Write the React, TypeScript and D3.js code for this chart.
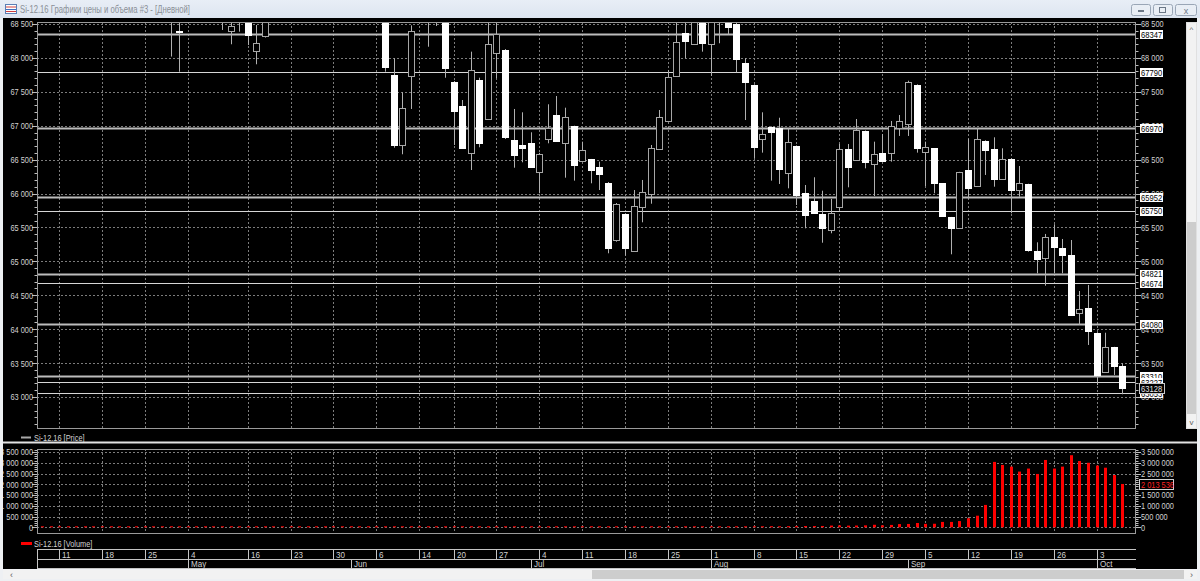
import React from "react";
import * as d3 from "d3";

// ---------- DATA ----------
const days = [
  "04-07","04-08","04-11","04-12","04-13","04-14","04-15","04-18","04-19","04-20","04-21","04-22","04-25","04-26","04-27","04-28","04-29",
  "05-04","05-05","05-06","05-10","05-11","05-12","05-13","05-16","05-17","05-18","05-19","05-20","05-23","05-24","05-25","05-26","05-27","05-30","05-31",
  "06-01","06-02","06-03","06-06","06-07","06-08","06-09","06-10","06-14","06-15","06-16","06-17","06-20","06-21","06-22","06-23","06-24","06-27","06-28","06-29","06-30",
  "07-01","07-04","07-05","07-06","07-07","07-08","07-11","07-12","07-13","07-14","07-15","07-18","07-19","07-20","07-21","07-22","07-25","07-26","07-27","07-28","07-29",
  "08-01","08-02","08-03","08-04","08-05","08-08","08-09","08-10","08-11","08-12","08-15","08-16","08-17","08-18","08-19","08-22","08-23","08-24","08-25","08-26","08-29","08-30","08-31",
  "09-01","09-02","09-05","09-06","09-07","09-08","09-09","09-12","09-13","09-14","09-15","09-16","09-19","09-20","09-21","09-22","09-23","09-26","09-27","09-28","09-29","09-30",
  "10-03","10-04","10-05","10-06"
];

// [date, open, high, low, close]
const candles: [string, number, number, number, number][] = [
  ["04-28", 68700, 68850, 68020, 68600],
  ["04-29", 68400, 68650, 67797, 68395],
  ["05-11", 68600, 68700, 68412, 68550],
  ["05-12", 68401, 68600, 68201, 68475],
  ["05-13", 68650, 68750, 68387, 68560],
  ["05-16", 68530, 68600, 68190, 68338],
  ["05-17", 68102, 68485, 67906, 68215],
  ["05-18", 68327, 68750, 68300, 68650],
  ["06-07", 68700, 68800, 67797, 67870],
  ["06-08", 67748, 67994, 66676, 66716],
  ["06-09", 66716, 67493, 66579, 67266],
  ["06-10", 67733, 68480, 67247, 68397],
  ["06-15", 68700, 68850, 68165, 68600],
  ["06-16", 68650, 68800, 68470, 68700],
  ["06-17", 68650, 68750, 67708, 67847],
  ["06-20", 67649, 67660, 66716, 67222],
  ["06-21", 67287, 67379, 66660, 66667],
  ["06-22", 66594, 68092, 66347, 67822],
  ["06-23", 67674, 67708, 66682, 66741],
  ["06-24", 67095, 68600, 67095, 68201],
  ["06-27", 68068, 68600, 67699, 68348],
  ["06-28", 68117, 68130, 66804, 66838],
  ["06-29", 66790, 67247, 66381, 66568],
  ["06-30", 66716, 67198, 66461, 66667],
  ["07-01", 66741, 66903, 66380, 66387],
  ["07-04", 66322, 66600, 66004, 66579],
  ["07-05", 66800, 67316, 66741, 66962],
  ["07-06", 67158, 67438, 66770, 66779],
  ["07-07", 66741, 67266, 66234, 67124],
  ["07-08", 66996, 67000, 66190, 66421],
  ["07-11", 66485, 66765, 66480, 66638],
  ["07-12", 66505, 66510, 66151, 66347],
  ["07-13", 66387, 66470, 66052, 66284],
  ["07-14", 66160, 66170, 65119, 65193],
  ["07-15", 65311, 65860, 65290, 65842],
  ["07-18", 65699, 65710, 65084, 65193],
  ["07-19", 65157, 66052, 65150, 65812],
  ["07-20", 65797, 66200, 65576, 66027],
  ["07-21", 66000, 66716, 65850, 66667],
  ["07-22", 66657, 67232, 66650, 67133],
  ["07-25", 67070, 67822, 67060, 67714],
  ["07-26", 67733, 68600, 67720, 68239],
  ["07-27", 68363, 68600, 67994, 68249],
  ["07-28", 68201, 68700, 68190, 68600],
  ["07-29", 68600, 68700, 68092, 68216],
  ["08-01", 68201, 68700, 67733, 68600],
  ["08-02", 68650, 68750, 68216, 68600],
  ["08-03", 68560, 68650, 68348, 68461],
  ["08-04", 68496, 68550, 67788, 67984],
  ["08-05", 67929, 67994, 67084, 67649],
  ["08-08", 67601, 67610, 66520, 66691],
  ["08-09", 66800, 67198, 66603, 66874],
  ["08-10", 66986, 66990, 66190, 66912],
  ["08-11", 66962, 67118, 66141, 66362],
  ["08-12", 66298, 66962, 66077, 66765],
  ["08-15", 66701, 66710, 65831, 65979],
  ["08-16", 66004, 66126, 65487, 65684],
  ["08-17", 65890, 66240, 65710, 65718],
  ["08-18", 65694, 66042, 65275, 65488],
  ["08-19", 65463, 65920, 65414, 65718],
  ["08-22", 65806, 66731, 65750, 66657],
  ["08-23", 66657, 66731, 66092, 66387],
  ["08-24", 66495, 67099, 66490, 66937],
  ["08-25", 66922, 66930, 66372, 66470],
  ["08-26", 66436, 66765, 65964, 66579],
  ["08-29", 66603, 66878, 66480, 66485],
  ["08-30", 66593, 67070, 66470, 66996],
  ["08-31", 66962, 67158, 66849, 67074],
  ["09-01", 67026, 67664, 66849, 67649],
  ["09-02", 67601, 67610, 66603, 66676],
  ["09-05", 66608, 66765, 66111, 66691],
  ["09-06", 66667, 66670, 66004, 66151],
  ["09-07", 66151, 66155, 65670, 65674],
  ["09-08", 65650, 65655, 65104, 65497],
  ["09-09", 65497, 66320, 65490, 66313],
  ["09-12", 66347, 66809, 65930, 66077],
  ["09-13", 66111, 66962, 66100, 66800],
  ["09-14", 66780, 66785, 66274, 66642],
  ["09-15", 66652, 66829, 66101, 66210],
  ["09-16", 66210, 66667, 66200, 66514],
  ["09-19", 66514, 66520, 65709, 66052],
  ["09-20", 66052, 66406, 65953, 66151],
  ["09-21", 66141, 66145, 65143, 65168],
  ["09-22", 65149, 65281, 64824, 65031],
  ["09-23", 65045, 65404, 64641, 65355],
  ["09-26", 65355, 65547, 64824, 65216],
  ["09-27", 65193, 65330, 64824, 65094],
  ["09-28", 65094, 65315, 64200, 64209],
  ["09-29", 64234, 64563, 64062, 64297],
  ["09-30", 64308, 64652, 63767, 63978],
  ["10-03", 63948, 63955, 63177, 63325],
  ["10-04", 63364, 63948, 63360, 63733],
  ["10-05", 63733, 63740, 63325, 63457],
  ["10-06", 63457, 63497, 63040, 63128]
];

// daily volume, one value per day in `days`
const volumes = [
  12000,14000,15000,13000,16000,15000,14000,18000,16000,17000,15000,19000,18000,20000,17000,19000,21000,
  16000,18000,20000,17000,19000,22000,21000,20000,23000,19000,22000,24000,21000,23000,25000,22000,24000,26000,25000,
  24000,27000,25000,28000,30000,33000,29000,31000,27000,26000,30000,29000,32000,35000,34000,31000,42000,38000,36000,33000,30000,
  29000,31000,32000,34000,30000,33000,35000,32000,36000,34000,37000,33000,38000,36000,35000,40000,42000,39000,41000,37000,40000,
  40000,42000,44000,41000,46000,45000,48000,50000,47000,52000,55000,60000,58000,62000,80000,85000,78000,82000,90000,118000,92000,110000,150000,
  155000,200000,160000,165000,250000,250000,290000,420000,540000,1040000,3040000,2900000,2820000,2590000,2730000,2480000,3130000,2730000,2820000,3350000,3080000,3000000,
  2870000,2770000,2430000,2013536
];

const levels = [68347, 67790, 66970, 65952, 65750, 64821, 64674, 64080, 63310, 63227, 63053];
const strongLevels = [68347, 66970, 65952, 64821, 64080, 63310];

const weekTickDates = ["04-11","04-18","04-25","05-04","05-16","05-23","05-30","06-06","06-14","06-20","06-27","07-04","07-11","07-18","07-25","08-01","08-08","08-15","08-22","08-29","09-05","09-12","09-19","09-26","10-03"];
const weekTickLabels = ["11","18","25","4","16","23","30","6","14","20","27","4","11","18","25","1","8","15","22","29","5","12","19","26","3"];
const monthTickDates = ["05-04","06-01","07-01","08-01","09-01","10-03"];
const monthTickLabels = ["May","Jun","Jul","Aug","Sep","Oct"];

const priceMajor = [63000, 63500, 64000, 64500, 65000, 65500, 66000, 66500, 67000, 67500, 68000, 68500];
const volumeMajor = [0, 500000, 1000000, 1500000, 2000000, 2500000, 3000000, 3500000];

const titleText = "Si-12.16 Графики цены и объема #3 - [Дневной]";
const priceLegend = "Si-12.16 [Price]";
const volumeLegend = "Si-12.16 [Volume]";

// ---------- CHART ----------
const FONT = "'Liberation Sans',Arial,sans-serif";
const fmt = (v: number) => d3.format(",")(v).replace(/,/g, " ");

// condensed bitmap-like label
function T(props: { x: number; y: number; children: any; anchor?: string; fill?: string; size?: number; sx?: number }) {
  const { x, y, children, anchor = "start", fill = "#d2d2d2", size = 9.5, sx = 0.78 } = props;
  return (
    <text transform={`translate(${x},${y}) scale(${sx},1)`} dy="0.36em" textAnchor={anchor} fontSize={size} fill={fill}>
      {children}
    </text>
  );
}

export default function App() {
  const PL = 37, PR = 1136;
  const pTop = 22, pBot = 429;
  const vTop = 449, vBot = 534;

  const x = d3.scaleLinear().domain([-0.58, 127.6]).range([PL, PR]);
  const yP = d3.scaleLinear().domain([63000, 68500]).range([397, 24]);
  const yV = d3.scaleLinear().domain([0, 3500000]).range([527.3, 452]);
  const di = (d: string) => days.indexOf(d);
  const cx = (d: string) => Math.round(x(di(d)));

  const priceMinor = d3.range(62600, 68600, 100);
  const volMinor = d3.range(0, 3700000, 100000);
  const last = candles[candles.length - 1];
  const lastVol = volumes[volumes.length - 1];

  const gridC = "#7c7c7c";
  const axC = "#bdbdbd";

  return (
    <svg width={1200} height={581} style={{ position: "absolute", left: 0, top: 0, display: "block" }} fontFamily={FONT}>
      <defs>
        <clipPath id="pclip"><rect x={PL} y={pTop} width={PR - PL} height={pBot - pTop} /></clipPath>
        <clipPath id="vclip"><rect x={PL} y={vTop} width={PR - PL} height={vBot - vTop} /></clipPath>
        <clipPath id="wclip"><rect x={3} y={18} width={1194} height={551} /></clipPath>
        <linearGradient id="tg" x1="0" y1="0" x2="0" y2="1">
          <stop offset="0" stopColor="#e8eef6" />
          <stop offset="1" stopColor="#dde5f0" />
        </linearGradient>
      </defs>
      {/* window frame */}
      <rect x={0} y={0} width={1200} height={581} fill="#eef0f3" />
      <rect x={0} y={0} width={1200} height={18} fill="url(#tg)" />
      <g>
        <rect x={5.5} y={4.5} width={11} height={9} fill="#fff" stroke="#5b7fb5" />
        <line x1={6} x2={16} y1={7} y2={7} stroke="#d04040" />
        <line x1={6} x2={16} y1={9.5} y2={9.5} stroke="#4070c0" />
        <line x1={6} x2={16} y1={11.5} y2={11.5} stroke="#d04040" />
      </g>
      <text x={20} y={12.5} fontSize={10.5} fill="#8a8f96" textLength={170} lengthAdjust="spacingAndGlyphs">{titleText}</text>
      {[1131, 1153, 1175].map((bx, i) => (
        <g key={bx}>
          <rect x={bx + 0.5} y={4.5} width={i === 2 ? 21 : 19} height={11} rx={2} fill="#e9eef5" stroke="#9aa6b6" />
          {i === 0 && <rect x={bx + 7} y={10} width={6} height={2} fill="#6b7786" />}
          {i === 1 && <rect x={bx + 6.5} y={7.5} width={6} height={5} fill="none" stroke="#6b7786" />}
          {i === 2 && <text x={bx + 11} y={13.5} fontSize={9} textAnchor="middle" fill="#6b7786">x</text>}
        </g>
      ))}

      {/* black client area */}
      <rect x={3} y={18} width={1194} height={551} fill="#000" />

      <g clipPath="url(#wclip)">
        {/* ===== PRICE PANEL ===== */}
        {priceMajor.map((p) => (
          <line key={"pg" + p} x1={PL} x2={PR} y1={Math.round(yP(p)) + 0.5} y2={Math.round(yP(p)) + 0.5} stroke={gridC} strokeDasharray="2,2" />
        ))}
        {weekTickDates.map((d) => (
          <line key={"pv" + d} x1={cx(d) + 0.5} x2={cx(d) + 0.5} y1={pTop} y2={pBot} stroke={gridC} strokeDasharray="2,2" />
        ))}
        {/* levels */}
        {levels.map((l) => {
          const strong = strongLevels.includes(l);
          return (
            <line key={"lv" + l} x1={PL} x2={PR} y1={Math.round(yP(l)) + 0.5} y2={Math.round(yP(l)) + 0.5}
              stroke={strong ? "#bcbcbc" : "#d6d6d6"} strokeWidth={strong ? 2 : 1} />
          );
        })}
        {/* candles */}
        <g clipPath="url(#pclip)">
          {candles.map(([d, o, h, l, c]) => {
            const px = cx(d);
            const up = c > o;
            const top = Math.round(yP(Math.max(o, c)));
            const bot = Math.round(yP(Math.min(o, c)));
            return (
              <g key={"c" + d}>
                <line x1={px + 0.5} x2={px + 0.5} y1={yP(h)} y2={yP(l)} stroke="#b0b0b0" />
                <rect x={px - 2.5} y={top + 0.5} width={6} height={Math.max(1, bot - top)}
                  fill={up ? "#000" : "#fff"} stroke={up ? "#a6a6a6" : "#fff"} />
              </g>
            );
          })}
        </g>
        {/* panel border */}
        <rect x={PL + 0.5} y={pTop + 0.5} width={PR - PL - 1} height={pBot - pTop - 1} fill="none" stroke="#9a9a9a" />
        {/* price axes ticks */}
        {priceMinor.map((p) => {
          const major = p % 500 === 0;
          const yy = Math.round(yP(p)) + 0.5;
          return (
            <g key={"pt" + p}>
              <line x1={major ? PL - 5 : PL - 2.5} x2={PL} y1={yy} y2={yy} stroke={axC} />
              <line x1={PR} x2={major ? PR + 5 : PR + 2.5} y1={yy} y2={yy} stroke={axC} />
            </g>
          );
        })}
        {priceMajor.map((p) => (
          <g key={"pl" + p}>
            <T x={PL - 4} y={yP(p)} anchor="end">{fmt(p)}</T>
            <T x={PR + 5} y={yP(p)}>{fmt(p)}</T>
          </g>
        ))}
        {/* level labels */}
        {levels.map((l) => (
          <g key={"ll" + l}>
            <rect x={PR + 4} y={Math.round(yP(l)) - 4} width={23} height={9} fill="#fff" />
            <T x={PR + 5} y={yP(l) + 0.5} fill="#000" size={9.5} sx={0.8}>{l}</T>
          </g>
        ))}
        {/* current price label */}
        <rect x={PR + 3.5} y={Math.round(yP(last[4])) - 4.5} width={25} height={10} fill="#000" stroke="#c8c8c8" />
        <T x={PR + 5} y={yP(last[4]) + 0.5} fill="#e6e6e6" sx={0.8}>{last[4]}</T>

        {/* legend price */}
        <line x1={21} x2={31} y1={437.5} y2={437.5} stroke="#a8a8a8" strokeWidth={2} />
        <T x={34} y={437.5}>{priceLegend}</T>
        {/* separator */}
        <rect x={3} y={441.5} width={1194} height={2} fill="#e2e2e2" />

        {/* ===== VOLUME PANEL ===== */}
        {volumeMajor.map((v) => (
          <line key={"vg" + v} x1={PL} x2={PR} y1={Math.round(yV(v)) + 0.5} y2={Math.round(yV(v)) + 0.5} stroke={gridC} strokeDasharray="2,2" />
        ))}
        {weekTickDates.map((d) => (
          <line key={"vv" + d} x1={cx(d) + 0.5} x2={cx(d) + 0.5} y1={vTop} y2={vBot} stroke={gridC} strokeDasharray="2,2" />
        ))}
        <g clipPath="url(#vclip)">
          {volumes.map((v, i) => {
            const px = Math.round(x(i));
            const h = Math.max(1, yV(0) - yV(v));
            return <rect key={"vb" + i} x={px - 1} y={yV(0) - h} width={3} height={h} fill="#ff0000" />;
          })}
        </g>
        <rect x={PL + 0.5} y={vTop + 0.5} width={PR - PL - 1} height={vBot - vTop - 1} fill="none" stroke="#9a9a9a" />
        {volMinor.map((v) => {
          const major = v % 500000 === 0;
          const yy = Math.round(yV(v)) + 0.5;
          return (
            <g key={"vt" + v}>
              <line x1={major ? PL - 5 : PL - 2.5} x2={PL} y1={yy} y2={yy} stroke={axC} />
              <line x1={PR} x2={major ? PR + 5 : PR + 2.5} y1={yy} y2={yy} stroke={axC} />
            </g>
          );
        })}
        {volumeMajor.map((v) => (
          <g key={"vl" + v}>
            <T x={PL - 4} y={yV(v)} anchor="end">{fmt(v)}</T>
            <T x={PR + 5} y={yV(v)}>{fmt(v)}</T>
          </g>
        ))}
        <rect x={PR + 3.5} y={Math.round(yV(lastVol)) - 4.5} width={34} height={10} fill="#000" stroke="#d0d0d0" />
        <T x={PR + 5} y={yV(lastVol) + 0.5} fill="#ff2020">{fmt(lastVol)}</T>

        {/* legend volume */}
        <line x1={21} x2={32} y1={543.5} y2={543.5} stroke="#ff0000" strokeWidth={3} />
        <T x={34} y={543.5}>{volumeLegend}</T>

        {/* ===== DATE AXIS ===== */}
        <line x1={PL} x2={PR} y1={549.5} y2={549.5} stroke="#c4c4c4" />
        <line x1={PL} x2={PR} y1={559.5} y2={559.5} stroke="#c4c4c4" />
        <line x1={PL} x2={PR} y1={568.5} y2={568.5} stroke="#c4c4c4" />
        <line x1={PL + 0.5} x2={PL + 0.5} y1={549} y2={568} stroke="#c4c4c4" />
        {weekTickDates.map((d, i) => (
          <g key={"wt" + d}>
            <line x1={cx(d) + 0.5} x2={cx(d) + 0.5} y1={549} y2={559} stroke="#c4c4c4" />
            <T x={cx(d) + 3} y={554.5} sx={0.85}>{weekTickLabels[i]}</T>
          </g>
        ))}
        {monthTickDates.map((d, i) => (
          <g key={"mt" + d}>
            <line x1={cx(d) + 0.5} x2={cx(d) + 0.5} y1={559} y2={568} stroke="#c4c4c4" />
            <T x={cx(d) + 3} y={564} sx={0.85}>{monthTickLabels[i]}</T>
          </g>
        ))}
      </g>

      {/* right scrollbar (price panel) */}
      <rect x={1186.5} y={22.5} width={10} height={406} fill="#f2f2f2" stroke="#e0e0e0" />
      <rect x={1187} y={222} width={9} height={192} fill="#cdcdcd" />
      <text x={1191.5} y={32} fontSize={8} textAnchor="middle" fill="#606060">^</text>
      <text x={1191.5} y={425} fontSize={8} textAnchor="middle" fill="#606060">v</text>
      {/* bottom scrollbar */}
      <rect x={3} y={570} width={1194} height={9} fill="#f2f2f2" />
      <rect x={592} y={570} width={592} height={9} fill="#cdcdcd" />
      <text x={10} y={578} fontSize={9} fill="#606060">‹</text>
      <text x={1190} y={578} fontSize={9} fill="#606060">›</text>
    </svg>
  );
}
